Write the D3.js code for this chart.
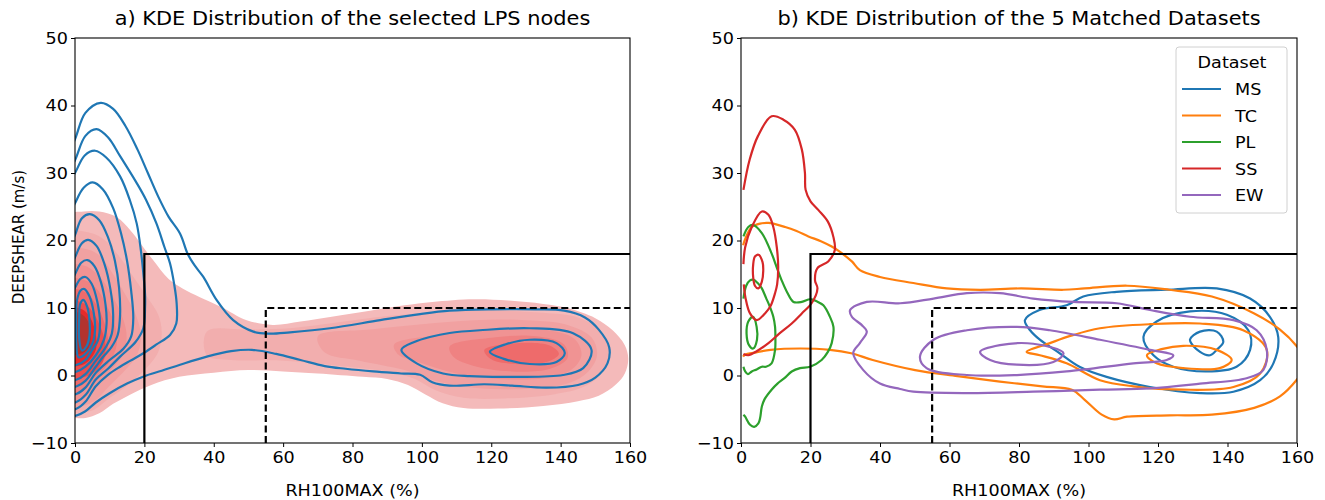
<!DOCTYPE html>
<html>
<head>
<meta charset="utf-8">
<script src="https://cdn.jsdelivr.net/npm/d3@7"></script>
<style>
  body { margin: 0; background: #fff; }
  text { font-family: "DejaVu Sans", sans-serif; fill: #000; }
</style>
</head>
<body>
<div id="chart"></div>
<script>
// ---- data (RH100MAX %, DEEPSHEAR m/s) ----
const xTicks = [0, 20, 40, 60, 80, 100, 120, 140, 160];
const yTicks = [-10, 0, 10, 20, 30, 40, 50];
const datasets = ["MS", "TC", "PL", "SS", "EW"];

// panel a: filled KDE levels (outer -> inner)
const fillOuter = [[-3,23.5],[2.5,24.3],[7,24.3],[12,23.5],[16,21.5],[19,19.5],[22.5,17.1],[27,14.3],[31,12.9],[36,11.6],[42,10.2],[49.5,8.2],[57,7.5],[65,8],[74,8.7],[85,9.6],[95,10.4],[103,10.9],[115,11.3],[125,11.1],[135,10.6],[142,10],[150,8.5],[155,6.7],[158.5,4.5],[159.5,2.5],[158.5,0.3],[156,-1.3],[151,-3],[145,-3.8],[135,-4.5],[122,-4.9],[112,-4.8],[106,-4.1],[101,-2.8],[96,-1.4],[90,-0.5],[83,-0.2],[70,0.3],[60,0.6],[50,0.8],[40,0.4],[30,-0.2],[22,-1.4],[16,-2.8],[11,-4.2],[7,-5.6],[3,-6.3],[0,-6.3],[-3,-6.3]];
const fillLobe2 = [[-3,21],[3,21.3],[8,20.3],[13,17.5],[17,14.5],[21,11.5],[24,9],[25,6.5],[24,3.5],[20,0.8],[15,-1.5],[10,-3.3],[5,-5.2],[0,-5.6],[-3,-5.6]];
const fillLobe3 = [[-3,18.5],[2.5,18.8],[7,17.8],[11,15],[14.5,12],[17.5,9],[19,6],[18,3.2],[14.5,0.8],[10,-1.5],[5.5,-3.8],[0,-4.8],[-3,-4.8]];
const fillLobe4 = [[-3,16],[2.5,16.3],[6.5,15],[10,12.5],[13,9.5],[14.8,6.5],[14.2,3.5],[11,1.2],[7,-1],[3.5,-3],[0,-4],[-3,-4]];
const fillLobe5 = [[-3,14],[2.5,14.2],[6,13],[9,10.5],[11.5,7.5],[12,4.5],[10,2],[6.5,0],[3,-2],[0,-3],[-3,-3]];
const fillLobe6 = [[-3,12.5],[2.5,12.5],[5.5,11],[8,8.5],[9.5,5.5],[9,3],[6.5,1],[3,-0.8],[0,-1.6],[-3,-1.6]];
const fillLobe7 = [[-3,11],[2,10.8],[5,9.5],[7.5,7],[8.8,4.5],[8,2],[5,0.3],[2,-0.3],[-3,-0.3]];
const fillLobe8 = [[-3,10],[2,9.8],[4.5,8.5],[6,6],[6,3.8],[4,2.2],[1.5,1.5],[-3,1.5]];
const fillLobe9 = [[-3,9.3],[1.5,9.2],[3.8,8],[4.5,6],[4,4.2],[2,3.3],[-3,3.3]];
const fillTail2 = [[38,6.5],[50,6.8],[62,7],[75,7.8],[90,8.8],[105,9.4],[120,9.6],[135,9.3],[145,8.6],[151,6.8],[154,4],[152,0.5],[147,-1.6],[138,-2.8],[124,-3.4],[112,-3.3],[104,-2.2],[98,-0.5],[90,0.6],[75,1.5],[60,2.2],[45,2.3],[38,3]];
const fillTail3 = [[70,5.8],[85,6.8],[100,7.6],[115,8.2],[130,8.2],[142,7.5],[149,5.6],[150.5,3],[148,0.6],[142,-1.2],[130,-2],[115,-1.8],[104,-0.8],[95,0.8],[82,2.2],[72,3.4]];
const fillTail4 = [[92,4.6],[105,6],[120,6.8],[135,6.8],[144,5.4],[146,3],[143,0.8],[135,-0.4],[122,-0.5],[110,0.3],[100,1.8],[93,3.2]];
const fillTail5 = [[108,4.3],[120,5.6],[133,5.8],[141,4.6],[142,2.6],[137,1],[126,0.6],[115,1.4],[109,2.8]];
const fillTail6 = [[118,3.8],[128,4.8],[137,4.4],[139.5,3.2],[136,2],[127,1.7],[120,2.4]];

// panel a: blue contour lines
const lpsC1 = [[-3,31.5],[0,35],[3,38.9],[7.4,40.4],[11,39.5],[14.5,37],[18,33.5],[21,30],[24,26.5],[27,23.5],[30.3,21],[32.5,18],[34.5,16.3],[37,14.6],[40.8,11.2],[45.6,8.2],[51.4,6.5],[56,6.2],[62,6.4],[73.5,7.0],[88,8.2],[99.5,9.1],[108,9.6],[120,9.8],[133,9.8],[141,9.6],[147,8.6],[151,6.8],[154,4.2],[153.5,1.8],[150,-0.3],[145,-1.4],[136,-1.8],[126,-1.5],[118,-1.3],[108,-1.5],[103,-1],[99.5,0.1],[94,0.3],[86,0.6],[78,1],[72,1.4],[65,2.3],[58,3.2],[51,3.8],[45,3.6],[38,2.8],[30.3,1.6],[25,0.7],[20,-0.1],[15,-1.2],[10.1,-2.6],[6,-4],[3,-5.3],[0.5,-5.9],[-3,-6]];
const lpsC2 = [[-3,29],[0,31.9],[3,35.5],[6.2,36.5],[9.5,35.3],[13,32.5],[17.8,28.5],[20.5,26],[23.5,22.5],[25.8,19],[27.4,16.6],[28.6,13.5],[29.3,10.7],[29.2,7.7],[27.4,6],[23.5,4.6],[19.7,3.3],[16,2.2],[13,1.3],[9.5,0.1],[6,-1.6],[3,-3.9],[0.5,-4.9],[-3,-5]];
const lpsC3 = [[-3,27.5],[0,30],[2.8,32.6],[5.8,33.3],[9,32.3],[13,29.5],[15.8,26],[17.8,22.5],[19,18.5],[19.7,15.1],[20.2,12],[20.2,10.2],[19.7,7],[17.5,5],[13,2.8],[9.5,1.0],[6,-0.6],[3,-2.9],[0.5,-3.9],[-3,-4]];
const lpsC4 = [[-3,22],[0,25.5],[2.5,27.8],[5.1,28.6],[8,27.6],[11,24.8],[13.3,21],[15,17],[16.2,12.5],[16.8,8.5],[16.2,5.8],[14,4],[10,2.3],[6,0.4],[3,-1.8],[0.5,-2.7],[-3,-2.8]];
const lpsC5 = [[-3,17],[0,20.8],[2,23.3],[4.3,23.9],[7,23],[9.5,20.5],[11.5,17],[12.7,13],[13,9],[12.3,6],[10.5,4.2],[8,2.7],[6,1.3],[3,-0.8],[0.5,-1.6],[-3,-1.7]];
const lpsC6 = [[-3,14],[0,17.5],[2,19.6],[3.8,20.1],[6.2,19.2],[8.5,16.5],[10.2,12.8],[11,9],[10.6,6.2],[9,4.3],[6,2.2],[3,0.2],[0.5,-0.6],[-3,-0.7]];
const lpsC7 = [[-3,12],[0,15],[1.8,16.7],[3.6,17.1],[5.6,16.2],[7.5,13.8],[8.8,10.5],[9.1,7.7],[8.4,5.4],[6,3],[3,1.3],[0.5,0.6],[-3,0.5]];
const lpsC8 = [[-3,10.5],[0,13],[1.5,14.3],[3,14.6],[4.8,13.6],[6.4,11],[7.2,7.8],[6.6,5.2],[5,3.8],[3,2.3],[0.5,1.6],[-3,1.5]];
const lpsC9 = [[0.3,8],[0.6,11.2],[1.6,12.6],[2.7,12.8],[4.2,11.7],[5.4,9.3],[5.8,7],[5.2,5],[3,3.2],[1,2.7],[0.4,4.5]];
const lpsC10 = [[1.2,8.5],[1.5,10.6],[2.4,11.2],[3.5,10.2],[4.2,8],[4.2,6],[3.4,4.4],[2,3.7],[1.2,5.5]];
const lpsR1 = [[94.1,3.8],[98,5],[102.3,5.7],[108,6.3],[116.7,6.7],[131.1,7.0],[143.6,6.25],[148.9,3.8],[146.5,1.1],[140.7,0.07],[126.3,-0.2],[113.8,-0.1],[106.1,0.3],[98.5,1.8]];
const lpsR2 = [[119.6,3.5],[124,4.6],[131.1,5.3],[138.8,4.8],[141.2,3.3],[138.8,2.0],[131.1,1.7],[123.4,2.5]];

// panel b: one set of contours per dataset (open = ends on the data edge)
const msOuter = [[81.7,8.2],[85.9,9.7],[93.7,10.4],[98.5,11.7],[108.1,12.4],[122.5,12.7],[136.9,12.9],[146.5,11.4],[152.2,8.7],[154.6,5.7],[153.2,1.8],[149.4,-0.7],[141.7,-2.4],[132.1,-2.6],[117.7,-1.7],[105.2,-0.2],[97.4,1.3],[91.7,3.3],[86,5.3],[83.2,6.7]];
const msMid = [[115.8,5.7],[119.6,8.0],[129.2,9.5],[139.8,9.0],[146,6.7],[146.5,3.8],[142.6,1.3],[134,0.6],[124.4,1.3],[118.7,3.0]];
const msInner = [[129.2,5.3],[132.1,6.5],[136.9,6.5],[138.8,5.0],[136.9,3.8],[135,3.0],[132.1,3.5]];
const tcOuter = [[0.6,19.3],[1.5,20.6],[3.1,22],[5.5,22.5],[7.9,22.6],[12.7,22.0],[16,21.4],[19.4,20.6],[23,19.9],[26.1,19.1],[28.5,18.3],[31.9,16.9],[34.2,15.6],[40,14.6],[49.6,13.7],[59.2,12.9],[68.8,12.7],[80.6,12.9],[92.8,12.7],[98.9,12.9],[111.1,13.3],[123.3,12.7],[135.5,11.7],[147.7,9.2],[155.1,6.8],[160,4.3],[163,1.8],[160,-0.6],[155.1,-3.1],[147.7,-4.8],[135.5,-5.8],[123.3,-5.9],[111.1,-6.1],[107.4,-6.5],[103.8,-5.8],[98.9,-3.6],[95.2,-2.1],[86.7,-1.6],[74.5,-0.9],[62.3,-0.1],[50.1,0.8],[37.9,2.3],[31.7,3.3],[25.6,3.8],[17.1,4.0],[8.5,3.8],[4,3.4],[1.2,3.1],[0.6,2.8]];
const tcMid = [[82.2,3.5],[88.9,4.8],[95,5.9],[103.3,7.0],[117.7,7.6],[132.1,7.7],[144.5,6.7],[151.3,3.8],[149.4,0.3],[141.7,-1.7],[127.3,-2.1],[112.9,-1.6],[103.3,-0.7],[93.7,1.8],[86,3.0]];
const tcInner = [[116.8,3.0],[121,3.9],[127.3,4.4],[136.9,3.8],[141.2,2.3],[137.8,1.1],[127.3,1.1],[119.6,1.8]];
const plOuter = [[0.7,20.6],[2.1,22],[3.5,22.3],[6,21.1],[8.8,18.1],[10.3,16],[11.7,14.1],[13.3,12.3],[15.1,10.9],[17.5,10.9],[19.9,11.3],[21.8,11],[23.7,10.4],[25.5,8.8],[26.6,7.2],[26.1,4.8],[25,3.5],[23.2,2.3],[19.9,1.3],[17,1.1],[14.6,0.6],[12.5,-0.4],[10.5,-1.2],[8.8,-2.1],[6.8,-3.5],[6,-4.6],[5.5,-6.3],[5,-7.1],[3.8,-7.6],[2.6,-7.3],[1.2,-6.1],[0.7,-5.8]];
const plMid = [[0.7,11.4],[1.5,13.3],[2.6,14.1],[3.5,14.2],[4.8,13.7],[6,12.9],[7.2,11.5],[8.3,10.2],[9.3,8.7],[9.8,7.2],[9.9,5.5],[9.8,3.8],[8.8,1.8],[7.2,1.3],[6,1.3],[4.5,0.9],[3.1,0.6],[2,0.2],[1.2,0.6],[0.7,1.3]];
const plInner = [[3.5,8.7],[4.5,7.2],[4.6,5.3],[3.5,4.0],[2.3,4.5],[1.6,6.2],[2.1,8.0]];
const ssOuter = [[0.7,27.5],[2.5,32],[4.9,35.5],[8.8,38.4],[12.2,37.9],[15.5,36.4],[17.5,33.5],[18.4,30],[18.6,27.5],[20,25.8],[22.3,24.5],[25,22.8],[26.6,20.5],[27,18.6],[25.1,16.9],[22,15.9],[21.3,14.1],[22,12.9],[20.3,10.7],[17.5,9.2],[14.6,7.7],[11,6.2],[7.9,4.8],[4.5,3.6],[2.1,3.0],[0.7,3.2]];
const ssMid = [[0.7,16.5],[1.2,19],[3.1,22],[6,24.3],[7.9,23.8],[9.3,22],[10.3,19],[10.7,16.1],[10.4,13.5],[9.8,12.2],[8.5,10.3],[6.9,9.2],[4.5,8.2],[2.6,9.2],[1.3,11.5],[0.8,13.5]];
const ssInner = [[4,17.6],[5,17.9],[6.2,16.8],[6.4,15.5],[6,13.9],[5,12.9],[4,13.3],[3.5,14.6],[3.5,16.4]];
const ewOuter = [[31.4,9.7],[36.2,10.9],[45.8,10.7],[55.4,11.4],[65,12.2],[74.5,12.2],[84.1,11.4],[95.7,10.9],[108.1,10.7],[117.7,9.7],[129.2,8.7],[141.7,8.2],[148.4,6.7],[151.3,3.8],[150.3,0.8],[145.5,-0.4],[132.1,-1.2],[117.7,-1.9],[103.3,-2.1],[84.1,-2.4],[65,-2.6],[49.6,-2.4],[45.8,-2.0],[40,-1.2],[35.2,0.8],[32.3,3.3],[34.2,4.8],[36.2,6.5],[34.7,7.5],[31.9,8.7]];
const ewMid = [[51.5,2.8],[55.4,5.3],[65,6.7],[79.4,7.2],[88.9,6.7],[103.3,5.3],[117.7,3.8],[124.4,3.0],[122.5,2.3],[112.9,1.8],[93.7,0.6],[79.4,0.07],[65,0.07],[53.4,1.1]];
const ewInner = [[68.8,3.5],[74.5,4.5],[84.1,4.7],[92.8,3.3],[89.9,2.0],[79.4,1.6],[71.7,2.3]];

// ---- styling ----
const config = {
  width      : 1325,
  height     : 500,
  top        : 38,
  bottom     : 443,
  lineWidth  : 2.2,
  fontSize   : 16,
  titleSize  : 19,
  stretch    : 1.1,   // text in the picture is a little wide
};
const colors = { MS: "#1f77b4", TC: "#ff7f0e", PL: "#2ca02c", SS: "#d62728", EW: "#9467bd" };
const levelColors = ["#f4baba", "#f2aeae", "#f1a1a1", "#f09393", "#ef8282", "#ee6b6b", "#ec4f4f", "#e62a2a", "#b3332e"];

const svg = d3.select("#chart")
  .append("svg")
    .attr("width", config.width)
    .attr("height", config.height);

const y = d3.scaleLinear().domain([-10, 50]).range([config.bottom, config.top]);
const xA = d3.scaleLinear().domain([0, 160]).range([75, 630]);
const xB = d3.scaleLinear().domain([0, 160]).range([741, 1297]);

// text placed at (x, y), slightly widened
function label(g, x, y, txt, size, anchor) {
  return g.append("text")
    .attr("transform", "translate(" + x + "," + y + ") scale(" + config.stretch + ",1)")
    .attr("text-anchor", anchor || "middle")
    .style("font-size", size + "px")
    .text(txt);
}

function panel(id, x, title, yLabel) {
  const g = svg.append("g");
  svg.append("clipPath").attr("id", "clip-" + id)
    .append("rect")
      .attr("x", x.range()[0]).attr("y", config.top)
      .attr("width", x.range()[1] - x.range()[0])
      .attr("height", config.bottom - config.top);
  const plot = g.append("g").attr("clip-path", "url(#clip-" + id + ")");

  // axes
  g.append("g")
      .attr("transform", "translate(0," + config.bottom + ")")
      .call(d3.axisBottom(x).tickValues(xTicks).tickSize(4).tickPadding(5).tickFormat(d3.format("d")))
      .call(a => a.select(".domain").remove());
  g.append("g")
      .attr("transform", "translate(" + x.range()[0] + ",0)")
      .call(d3.axisLeft(y).tickValues(yTicks).tickSize(4).tickPadding(5))
      .call(a => a.select(".domain").remove())
      .call(a => a.selectAll(".tick text").attr("x", -6.5));
  g.selectAll(".tick text")
      .style("font-size", config.fontSize + "px")
      .style("font-family", "DejaVu Sans")
      .attr("transform", "scale(" + config.stretch + ",1)");
  g.selectAll(".tick line").attr("stroke", "#000").attr("stroke-width", 1);

  const cx = (x.range()[0] + x.range()[1]) / 2;
  label(g, cx, 25, title, config.titleSize);
  label(g, cx, 496, "RH100MAX (%)", config.fontSize);
  if (yLabel) {
    g.append("text")
        .attr("transform", "translate(24," + y(20.5) + ") rotate(-90) scale(1," + config.stretch + ")")
        .attr("text-anchor", "middle")
        .style("font-size", "15px")
        .text(yLabel);
  }
  return { g, plot };
}

function lineGen(x, closed) {
  return d3.line()
    .x(d => x(d[0]))
    .y(d => y(d[1]))
    .curve(closed ? d3.curveCatmullRomClosed.alpha(0.5) : d3.curveCatmullRom.alpha(0.5));
}

function boxes(g, x) {
  const solid = [[20, -10], [20, 18], [160, 18]];
  const dashed = [[55, -10], [55, 10], [160, 10]];
  const l = d3.line().x(d => x(d[0])).y(d => y(d[1]));
  g.append("path").attr("d", l(solid)).attr("fill", "none")
    .attr("stroke", "#000").attr("stroke-width", 2.2);
  g.append("path").attr("d", l(dashed)).attr("fill", "none")
    .attr("stroke", "#000").attr("stroke-width", 2.2).attr("stroke-dasharray", "7,3.5");
}

function frame(g, x) {
  g.append("rect")
    .attr("x", x.range()[0]).attr("y", config.top)
    .attr("width", x.range()[1] - x.range()[0])
    .attr("height", config.bottom - config.top)
    .attr("fill", "none").attr("stroke", "#000").attr("stroke-width", 1.1);
}

// ---- panel a ----
const a = panel("a", xA, "a) KDE Distribution of the selected LPS nodes", "DEEPSHEAR (m/s)");
const fillA = lineGen(xA, true);
const fillLevels = [
  [fillOuter, 0], [fillLobe2, 1], [fillTail2, 1], [fillLobe3, 2], [fillTail3, 2],
  [fillLobe4, 3], [fillTail4, 3], [fillLobe5, 4], [fillTail5, 4], [fillTail6, 5],
  [fillLobe6, 5], [fillLobe7, 6], [fillLobe8, 7], [fillLobe9, 8]
];
a.plot.selectAll(".level")
  .data(fillLevels)
  .enter()
    .append("path")
      .attr("class", "level")
      .attr("d", d => fillA(d[0]))
      .attr("fill", d => levelColors[d[1]])
      .attr("stroke", "none");

const lpsLines = [lpsC1, lpsC2, lpsC3, lpsC4, lpsC5, lpsC6, lpsC7, lpsC8, lpsC9, lpsC10, lpsR1, lpsR2];
a.plot.selectAll(".contour")
  .data(lpsLines)
  .enter()
    .append("path")
      .attr("class", "contour")
      .attr("d", d => fillA(d))
      .attr("fill", "none")
      .attr("stroke", colors.MS)
      .attr("stroke-width", config.lineWidth);
boxes(a.g, xA);
frame(a.g, xA);

// ---- panel b ----
const b = panel("b", xB, "b) KDE Distribution of the 5 Matched Datasets", null);
const closedB = lineGen(xB, true);
const openB = lineGen(xB, false);
const bLines = [
  ["MS", msOuter, true], ["MS", msMid, true], ["MS", msInner, true],
  ["TC", tcOuter, false], ["TC", tcMid, true], ["TC", tcInner, true],
  ["PL", plOuter, false], ["PL", plMid, false], ["PL", plInner, true],
  ["SS", ssOuter, false], ["SS", ssMid, false], ["SS", ssInner, true],
  ["EW", ewOuter, true], ["EW", ewMid, true], ["EW", ewInner, true]
];
b.plot.selectAll(".contour")
  .data(bLines)
  .enter()
    .append("path")
      .attr("class", "contour")
      .attr("d", d => (d[2] ? closedB : openB)(d[1]))
      .attr("fill", "none")
      .attr("stroke", d => colors[d[0]])
      .attr("stroke-width", config.lineWidth);
boxes(b.g, xB);
frame(b.g, xB);

// legend
const legend = b.g.append("g").attr("transform", "translate(1176,47)");
legend.append("rect")
  .attr("width", 111).attr("height", 166).attr("rx", 3)
  .attr("fill", "#fff").attr("fill-opacity", 0.8)
  .attr("stroke", "#d0d0d0");
label(legend, 56, 21, "Dataset", config.fontSize);
const item = legend.selectAll(".item")
  .data(datasets)
  .enter()
    .append("g")
      .attr("class", "item")
      .attr("transform", (d, i) => "translate(0," + (42 + i * 26.5) + ")");
item.append("line")
  .attr("x1", 6).attr("x2", 45)
  .attr("stroke", d => colors[d]).attr("stroke-width", config.lineWidth);
item.append("text")
  .attr("transform", "translate(59,6) scale(" + config.stretch + ",1)")
  .style("font-size", config.fontSize + "px")
  .text(d => d);
</script>
</body>
</html>
